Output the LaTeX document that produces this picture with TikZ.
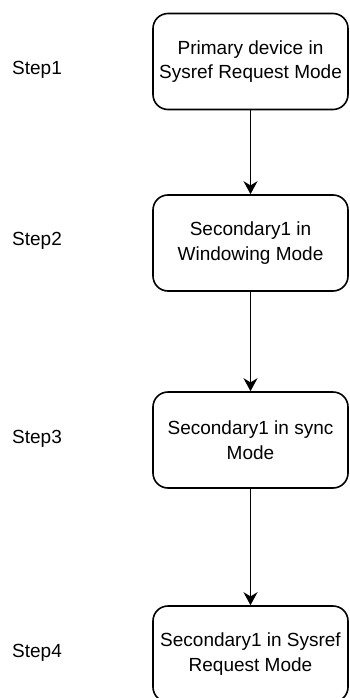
\documentclass[tikz,border=0pt]{standalone}
\usepackage{fontspec}
\setmainfont{Liberation Sans}
\usetikzlibrary{arrows.meta}
\begin{document}
\begin{tikzpicture}[x=1pt,y=1pt]
				\tikzstyle{Box} = [rectangle, draw, rounded corners=15, minimum width=195, minimum height=96, line width=1.6, align=center, inner sep=0pt, font=\fontsize{19}{24.5}\selectfont]
				\tikzstyle{StepLabel} = [anchor=west, inner sep=0pt, font=\fontsize{19}{24.5}\selectfont]
				\useasboundingbox (0,0) rectangle (350,-698);
				\node (P1) at (250.5,-61.5) [Box] {Primary device in\\Sysref Request Mode};
				\node (S2) at (250.5,-243) [Box] {Secondary1 in\\Windowing Mode};
				\node (S3) at (250.5,-440) [Box] {Secondary1 in sync\\Mode};
				\node (S4) at (250.5,-654) [Box] {Secondary1 in Sysref\\Request Mode};
				\node (L1) at (12,-70) [StepLabel] {Step1};
				\node (L2) at (12,-241) [StepLabel] {Step2};
				\node (L3) at (12,-439) [StepLabel] {Step3};
				\node (L4) at (12,-653) [StepLabel] {Step4};
				\draw [-{Stealth[length=13,width=14]}, line width=1.6] (P1) to (S2);
				\draw [-{Stealth[length=13,width=14]}, line width=1.6] (S2) to (S3);
				\draw [-{Stealth[length=13,width=14]}, line width=1.6] (S3) to (S4);
			\end{tikzpicture}
\end{document}
